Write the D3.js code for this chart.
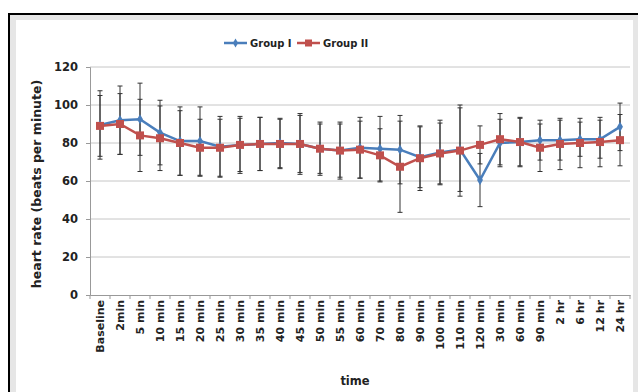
<!DOCTYPE html>
<html>
<head>
<meta charset="utf-8">
<script src="https://d3js.org/d3.v7.min.js"></script>
<style>
  body { margin: 0; padding: 0; background: #ffffff; }
  svg text { font-family: 'DejaVu Sans', Verdana, sans-serif; font-weight: bold; fill: #222; }
</style>
</head>
<body>
<div id="chart"></div>
<script>
// time points (some labels repeat, so the band scale runs on the index)
const timeLabels = ["Baseline", "2min", "5 min", "10 min", "15 min", "20 min", "25 min", "30 min",
  "35 min", "40 min", "45 min", "50 min", "55 min", "60 min", "70 min", "80 min", "90 min",
  "100 min", "110 min", "120 min", "30 min", "60 min", "90 min", "2 hr", "6 hr", "12 hr", "24 hr"];

const group1 = [89.5, 92, 92.5, 85.5, 81, 81, 78, 79, 79.5, 80, 79.5, 77, 76, 77.5, 77, 76.5,
  72.5, 75, 76.5, 60.5, 80, 80.5, 81.5, 81.5, 82, 82, 88.5];
const group2 = [89, 90, 84, 82.5, 80, 77.5, 77.5, 79, 79.5, 79.5, 79.5, 77, 76, 76.5, 73.5, 67.5,
  72, 74.5, 76, 79, 82, 80.5, 77.5, 79.5, 80, 80.5, 81.5];
const sd1 = [18, 18, 19, 17, 18, 18, 16, 15, 14, 13, 16, 14, 15, 16, 17, 18,
  16, 17, 22, 14, 12.5, 13, 10.5, 10.5, 9, 10, 12.5];
const sd2 = [16, 16, 19, 17, 17, 15, 15, 14, 14, 13, 15, 13, 14, 15, 14, 24,
  17, 16, 24, 10, 13.5, 12.5, 12.5, 13.5, 13, 13, 13.5];

const yTicks = [0, 20, 40, 60, 80, 100, 120];

const W = 638, H = 392;
const margin = {top: 67, right: 8, bottom: 97, left: 90};
const width = 630 - margin.left, height = 295 - margin.top;

const svg = d3.select("#chart").append("svg")
  .attr("width", W).attr("height", H);

// frame: black border, grey band, white chart area
svg.append("rect").attr("x", 9).attr("y", 14).attr("width", W).attr("height", H)
  .attr("fill", "#e6e6e6").attr("stroke", "#000").attr("stroke-width", 2);
svg.append("rect").attr("x", 16).attr("y", 20).attr("width", 617).attr("height", H)
  .attr("fill", "#fff");

const g = svg.append("g").attr("transform", `translate(${margin.left},${margin.top})`);

const x = d3.scaleBand().domain(d3.range(timeLabels.length)).range([0, width]);
const y = d3.scaleLinear().domain([0, 120]).range([height, 0]);
const cx = i => x(i) + x.bandwidth() / 2;

// gridlines
g.selectAll(".grid").data(yTicks.filter(d => d > 0)).enter().append("line")
  .attr("x1", 0).attr("x2", width)
  .attr("y1", d => y(d)).attr("y2", d => y(d))
  .attr("stroke", "#c6c6c6").attr("stroke-width", 1);

// y axis
const yAxis = g.append("g").call(d3.axisLeft(y).tickValues(yTicks).tickSize(4).tickPadding(8));
yAxis.select(".domain").attr("stroke", "#999");
yAxis.selectAll(".tick line").attr("stroke", "#999");
yAxis.selectAll("text").style("font-size", "11.5px").attr("fill", "#222");

// x axis
const xAxis = g.append("g").attr("transform", `translate(0,${height})`)
  .call(d3.axisBottom(x).tickFormat(i => timeLabels[i]).tickSize(0).tickPadding(0));
xAxis.select(".domain").attr("stroke", "#999");
xAxis.selectAll("text")
  .style("font-size", "11px")
  .attr("fill", "#222")
  .attr("text-anchor", "end")
  .attr("dy", null)
  .attr("transform", "translate(4,5) rotate(-90)");
// small tick marks between categories
xAxis.selectAll(".sep").data(d3.range(timeLabels.length + 1)).enter().append("line")
  .attr("x1", i => i * x.step()).attr("x2", i => i * x.step())
  .attr("y1", 0).attr("y2", 4).attr("stroke", "#999");

// axis titles
svg.append("text")
  .attr("transform", `translate(41,${margin.top + height / 2 + 3}) rotate(-90)`)
  .attr("text-anchor", "middle")
  .style("font-size", "12.5px")
  .text("heart rate (beats per minute)");
svg.append("text")
  .attr("x", 355).attr("y", 385)
  .attr("text-anchor", "middle")
  .style("font-size", "11.5px")
  .text("time");

// error bars
function errorBars(vals, sds) {
  const eb = g.append("g").attr("stroke", "#333").attr("stroke-width", 1);
  vals.forEach((v, i) => {
    eb.append("line").attr("x1", cx(i)).attr("x2", cx(i))
      .attr("y1", y(v + sds[i])).attr("y2", y(v - sds[i]));
    [v + sds[i], v - sds[i]].forEach(e => {
      eb.append("line").attr("x1", cx(i) - 2.5).attr("x2", cx(i) + 2.5)
        .attr("y1", y(e)).attr("y2", y(e));
    });
  });
}
errorBars(group1, sd1);
errorBars(group2, sd2);

const line = d3.line().x((d, i) => cx(i)).y(d => y(d));
const blue = "#4a7ebb", red = "#c0504d";

// group I
g.append("path").datum(group1).attr("d", line)
  .attr("fill", "none").attr("stroke", blue).attr("stroke-width", 2.5);
g.selectAll(".d1").data(group1).enter().append("path")
  .attr("d", d3.symbol(d3.symbolDiamond, 30))
  .attr("transform", (d, i) => `translate(${cx(i)},${y(d)})`)
  .attr("fill", blue);

// group II
g.append("path").datum(group2).attr("d", line)
  .attr("fill", "none").attr("stroke", red).attr("stroke-width", 2.5);
g.selectAll(".d2").data(group2).enter().append("rect")
  .attr("x", (d, i) => cx(i) - 4).attr("y", d => y(d) - 4)
  .attr("width", 8).attr("height", 8)
  .attr("fill", red);

// legend
const legend = svg.append("g").attr("transform", "translate(0,43)");
const items = [{name: "Group I", color: blue, x: 224, mark: "diamond"},
               {name: "Group II", color: red, x: 297, mark: "square"}];
items.forEach(it => {
  legend.append("line").attr("x1", it.x).attr("x2", it.x + 23)
    .attr("stroke", it.color).attr("stroke-width", 2.5);
  if (it.mark === "diamond") {
    legend.append("path").attr("d", d3.symbol(d3.symbolDiamond, 24))
      .attr("transform", `translate(${it.x + 11.5},0)`).attr("fill", it.color);
  } else {
    legend.append("rect").attr("x", it.x + 8).attr("y", -3.5)
      .attr("width", 7).attr("height", 7).attr("fill", it.color);
  }
  legend.append("text").attr("x", it.x + 26).attr("y", 4)
    .style("font-size", "10px").text(it.name);
});
</script>
</body>
</html>
